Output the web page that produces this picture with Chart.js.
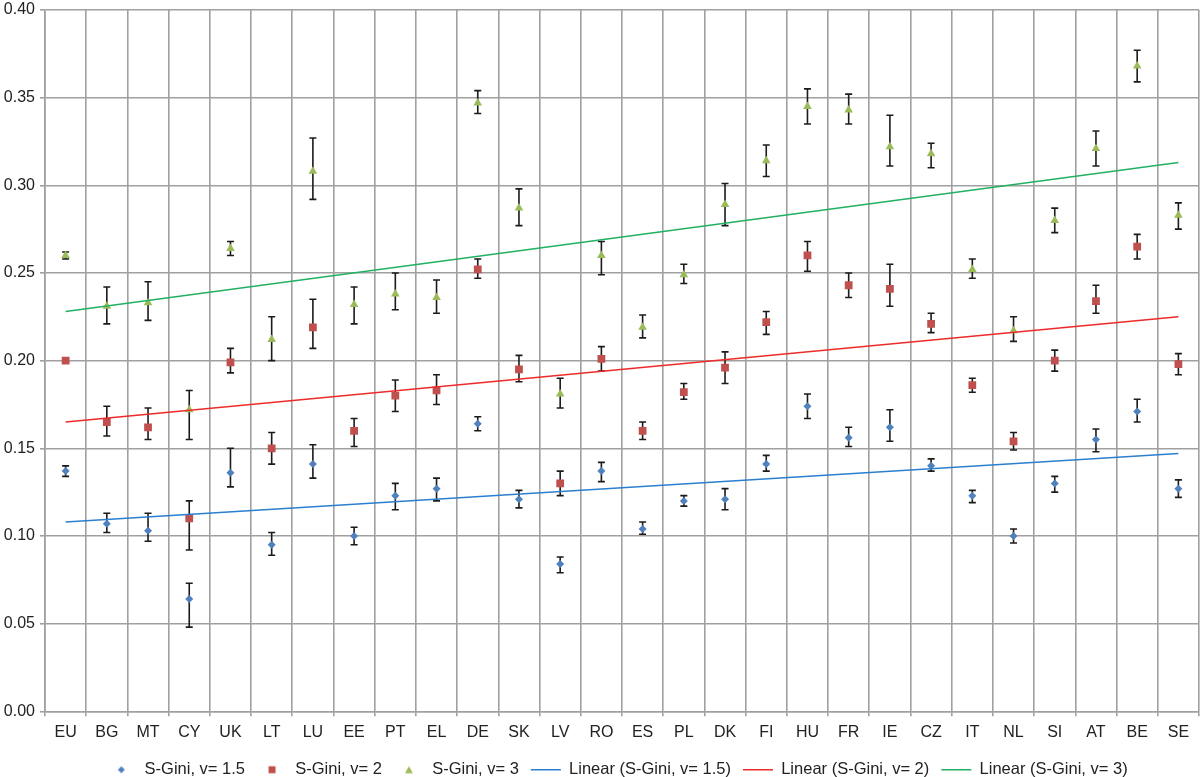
<!DOCTYPE html>
<html lang="en">
<head>
    <meta charset="UTF-8">
    <title>S-Gini by country</title>
    <script src="https://cdn.jsdelivr.net/npm/chart.js"></script>
    <style>
        html, body { margin: 0; padding: 0; background: #fff; }
        .chart-container { width: 1200px; height: 777px; }
    </style>
</head>
<body>
    <div class="chart-container">
        <canvas id="gini-chart"></canvas>
    </div>

    <script>
// Countries (x axis)
const countries = ["EU", "BG", "MT", "CY", "UK", "LT", "LU", "EE", "PT", "EL", "DE", "SK", "LV", "RO",
    "ES", "PL", "DK", "FI", "HU", "FR", "IE", "CZ", "IT", "NL", "SI", "AT", "BE", "SE"];

// S-Gini, v = 1.5
const gini15 = [0.137, 0.107, 0.103, 0.064, 0.136, 0.095, 0.141, 0.100, 0.123, 0.127, 0.164, 0.121, 0.084, 0.137,
    0.104, 0.120, 0.121, 0.141, 0.174, 0.156, 0.162, 0.140, 0.123, 0.100, 0.130, 0.155, 0.171, 0.127];
const gini15Low = [0.134, 0.102, 0.097, 0.048, 0.128, 0.089, 0.133, 0.095, 0.115, 0.120, 0.160, 0.116, 0.079, 0.131,
    0.101, 0.117, 0.115, 0.137, 0.167, 0.151, 0.154, 0.137, 0.119, 0.096, 0.125, 0.148, 0.165, 0.122];
const gini15High = [0.140, 0.113, 0.113, 0.073, 0.150, 0.102, 0.152, 0.105, 0.130, 0.133, 0.168, 0.126, 0.088, 0.142,
    0.108, 0.123, 0.127, 0.146, 0.181, 0.162, 0.172, 0.144, 0.126, 0.104, 0.134, 0.161, 0.178, 0.132];

// S-Gini, v = 2
const gini2 = [0.200, 0.165, 0.162, 0.110, 0.199, 0.150, 0.219, 0.160, 0.180, 0.183, 0.252, 0.195, 0.130, 0.201,
    0.160, 0.182, 0.196, 0.222, 0.260, 0.243, 0.241, 0.221, 0.186, 0.154, 0.200, 0.234, 0.265, 0.198];
const gini2Low = [0.199, 0.157, 0.155, 0.092, 0.193, 0.141, 0.207, 0.151, 0.171, 0.175, 0.247, 0.188, 0.123, 0.194,
    0.155, 0.178, 0.187, 0.215, 0.251, 0.236, 0.231, 0.216, 0.182, 0.149, 0.194, 0.227, 0.258, 0.192];
const gini2High = [0.201, 0.174, 0.173, 0.120, 0.207, 0.159, 0.235, 0.167, 0.189, 0.192, 0.258, 0.203, 0.137, 0.208,
    0.165, 0.187, 0.205, 0.228, 0.268, 0.250, 0.255, 0.227, 0.190, 0.159, 0.206, 0.243, 0.272, 0.204];

// S-Gini, v = 3
const gini3 = [0.260, 0.231, 0.233, 0.172, 0.264, 0.212, 0.308, 0.232, 0.238, 0.236, 0.347, 0.287, 0.181, 0.260,
    0.219, 0.249, 0.289, 0.314, 0.345, 0.343, 0.322, 0.318, 0.252, 0.217, 0.280, 0.321, 0.368, 0.283];
const gini3Low = [0.258, 0.221, 0.223, 0.155, 0.260, 0.200, 0.292, 0.221, 0.229, 0.227, 0.341, 0.277, 0.173, 0.249,
    0.213, 0.244, 0.277, 0.305, 0.335, 0.335, 0.311, 0.310, 0.247, 0.211, 0.273, 0.311, 0.359, 0.275];
const gini3High = [0.262, 0.242, 0.245, 0.183, 0.268, 0.225, 0.327, 0.242, 0.250, 0.246, 0.354, 0.298, 0.190, 0.268,
    0.226, 0.255, 0.301, 0.323, 0.355, 0.352, 0.340, 0.324, 0.258, 0.225, 0.287, 0.331, 0.377, 0.290];

// Linear trend lines: value at EU and at SE (1.5, 2, 3)
const trendStart = [0.108, 0.165, 0.228];
const trendEnd = [0.147, 0.225, 0.313];

const yTicks = [0, 0.05, 0.10, 0.15, 0.20, 0.25, 0.30, 0.35, 0.40];

const FONT = "'Liberation Sans', Arial, Helvetica, sans-serif";
const GRID = "rgb(160,160,160)";

// small legend symbols, drawn centred in a 30px wide box like Excel
function legendSymbol(kind, color) {
    const c = document.createElement("canvas");
    c.width = 30; c.height = 12;
    const g = c.getContext("2d");
    g.fillStyle = color;
    g.beginPath();
    if (kind === "diamond") {
        g.moveTo(15, 2.5); g.lineTo(18.5, 6); g.lineTo(15, 9.5); g.lineTo(11.5, 6);
    } else if (kind === "square") {
        g.rect(11.5, 2.5, 7, 7);
    } else {
        g.moveTo(15, 2.5); g.lineTo(19, 9.5); g.lineTo(11, 9.5);
    }
    g.closePath();
    g.fill();
    return c;
}
const legendSymbols = [
    legendSymbol("diamond", "#4F81BD"),
    legendSymbol("square", "#C0504D"),
    legendSymbol("triangle", "#9BBB59")
];

// error bars, drawn through the chart scales
const errorBars = {
    id: "errorBars",
    beforeDatasetsDraw(chart) {
        const { ctx, scales: { x, y } } = chart;
        ctx.save();
        ctx.strokeStyle = "#1b1b1b";
        ctx.lineWidth = 1.6;
        chart.data.datasets.forEach(ds => {
            if (!ds.errLow) return;
            ds.data.forEach((v, i) => {
                const px = x.getPixelForValue(i);
                const top = y.getPixelForValue(ds.errHigh[i]);
                const bot = y.getPixelForValue(ds.errLow[i]);
                ctx.beginPath();
                ctx.moveTo(px, top); ctx.lineTo(px, bot);
                ctx.moveTo(px - 3.5, top); ctx.lineTo(px + 3.5, top);
                ctx.moveTo(px - 3.5, bot); ctx.lineTo(px + 3.5, bot);
                ctx.stroke();
            });
        });
        ctx.restore();
    }
};

// the legend in the original sits a little right of centre
const legendShift = {
    id: "legendShift",
    afterLayout(chart) {
        if (!chart.legend) return;
        chart.legend.left += 16;
        chart.legend.right += 16;
    }
};

function pointSeries(label, data, low, high, style, color, radius) {
    return {
        label: label,
        data: data,
        errLow: low,
        errHigh: high,
        showLine: false,
        pointStyle: style,
        pointRadius: radius,
        pointBorderWidth: 0,
        pointBackgroundColor: color,
        backgroundColor: color,
        borderColor: color,
        order: 1
    };
}

function trendSeries(label, i, color) {
    return {
        label: label,
        data: [{ x: countries[0], y: trendStart[i] }, { x: countries[countries.length - 1], y: trendEnd[i] }],
        borderColor: color,
        backgroundColor: color,
        borderWidth: 1.6,
        pointRadius: 0,
        pointStyle: "line",
        order: 0
    };
}

const ctx = document.getElementById("gini-chart").getContext("2d");
new Chart(ctx, {
    type: "line",
    data: {
        labels: countries,
        datasets: [
            pointSeries("S-Gini, v= 1.5", gini15, gini15Low, gini15High, "rectRot", "#4F81BD", 4),
            pointSeries("S-Gini, v= 2", gini2, gini2Low, gini2High, "rect", "#C0504D", 5.5),
            pointSeries("S-Gini, v= 3", gini3, gini3Low, gini3High, "triangle", "#9BBB59", 5),
            trendSeries("Linear (S-Gini, v= 1.5)", 0, "#2a7fcf"),
            trendSeries("Linear (S-Gini, v= 2)", 1, "#ee2a2a"),
            trendSeries("Linear (S-Gini, v= 3)", 2, "#22b062")
        ]
    },
    options: {
        responsive: true,
        maintainAspectRatio: false,
        animation: false,
        layout: { autoPadding: false, padding: { left: 3, right: 1, top: 0, bottom: -11 } },
        plugins: {
            tooltip: { enabled: false },
            legend: {
                position: "bottom",
                labels: {
                    usePointStyle: true,
                    pointStyleWidth: 30,
                    boxHeight: 12,
                    padding: 12,
                    color: "#222",
                    font: { family: FONT, size: 16.5 },
                    generateLabels(chart) {
                        const items = Chart.defaults.plugins.legend.labels.generateLabels(chart);
                        items.sort((a, b) => a.datasetIndex - b.datasetIndex);
                        items.forEach(item => {
                            if (item.datasetIndex < 3) item.pointStyle = legendSymbols[item.datasetIndex];
                        });
                        return items;
                    }
                }
            }
        },
        scales: {
            x: {
                offset: true,
                afterFit(axis) {
                    axis.paddingLeft = 0;
                    axis.paddingRight = 0;
                },
                grid: { offset: true, color: GRID, lineWidth: 1.6, tickLength: 5 },
                border: { color: GRID, width: 1.6 },
                ticks: { color: "#222", padding: 7, maxRotation: 0, autoSkip: false, font: { family: FONT, size: 16 } }
            },
            y: {
                min: 0,
                max: 0.4,
                afterBuildTicks(axis) {
                    axis.ticks = yTicks.map(v => ({ value: v }));
                },
                afterFit(axis) {
                    axis.width = 42;
                    axis.paddingTop = 10;
                },
                grid: { color: GRID, lineWidth: 1.6, tickLength: 5 },
                border: { color: GRID, width: 1.6 },
                ticks: {
                    color: "#222",
                    padding: 5,
                    font: { family: FONT, size: 16 },
                    callback: value => value.toFixed(2)
                }
            }
        }
    },
    plugins: [errorBars, legendShift]
});
    </script>
</body>
</html>
